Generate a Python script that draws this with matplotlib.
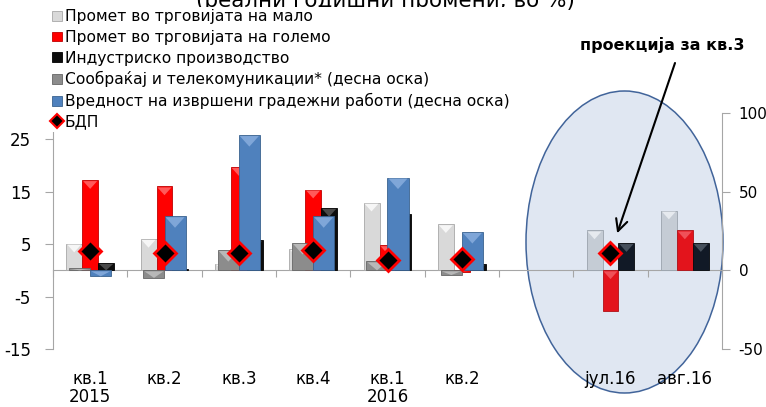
import numpy as np
import matplotlib
matplotlib.use('Agg')
import matplotlib.pyplot as plt
from matplotlib.patches import Ellipse, Polygon, Patch
from matplotlib.lines import Line2D

plt.rcParams['font.family'] = ['DejaVu Sans']
plt.rcParams['axes.unicode_minus'] = False

# Periods: six quarters, an empty gap, then two months
periods = ['кв.1\n2015', 'кв.2', 'кв.3', 'кв.4', 'кв.1\n2016', 'кв.2', '', 'јул.16', 'авг.16']
nan = np.nan

# left axis series
retail = [5.1, 6.0, 1.3, 4.1, 12.9, 8.8, nan, 7.6, 11.4]
wholesale = [17.2, 16.0, 19.7, 15.4, 4.8, -0.3, nan, -7.7, 7.6]
industry = [1.4, 0.3, 5.7, 11.9, 10.8, 1.2, nan, 5.2, 5.2]
gdp = [3.7, 3.3, 3.4, 3.8, 2.0, 2.2, nan, 3.3, nan]

# right axis series
transport = [1.5, -4.8, 12.9, 17.4, 5.7, -3.0, nan, nan, nan]
construction = [-3.8, 34.4, 86.0, 34.4, 59.0, 24.4, nan, nan, nan]

labels = ['Промет во трговијата на мало',
          'Промет во трговијата на големо',
          'Индустриско производство',
          'Сообраќај и телекомуникации* (десна оска)',
          'Вредност на извршени градежни работи (десна оска)',
          'БДП']

# body / highlight / edge colours; the monthly bars use a slightly different palette
q_body = ['#d9d9d9', '#ff0000', '#0d0d0d', '#8c8c8c', '#4f81bd']
q_top = ['#f6f6f6', '#ff5a5a', '#4a4a4a', '#b8b8b8', '#7fa6d8']
q_edge = ['#a8a8a8', '#c00000', '#000000', '#666666', '#3a628f']
m_body = ['#c5ccd5', '#e3141c', '#111926']
m_top = ['#e6eaef', '#ef5158', '#46505c']
m_edge = ['#9aa3ad', '#b01016', '#05080c']

W, H = 766, 407
fig = plt.figure(figsize=(W / 100, H / 100), dpi=100)
ax = fig.add_axes([53 / W, (H - 349) / H, 669 / W, 236 / H])
ax.patch.set_visible(False)
ax2 = ax.twinx()

x = np.arange(len(periods))
pw = 0.215   # primary bar width
sw = 0.283   # secondary bar width


def per_bar(qcol, mcol):
    return [mcol if i >= 7 else qcol for i in range(len(periods))]


def bevel(axis, bars, tops):
    # lighter triangular cap on the top edge of each bar
    tr = axis.transData
    for bar, tc in zip(bars, tops):
        h = bar.get_height()
        if not np.isfinite(h) or h == 0:
            continue
        x0, w, y0 = bar.get_x(), bar.get_width(), bar.get_y()
        top, bot = max(y0, y0 + h), min(y0, y0 + h)
        (px0, ptop), (px1, pbot) = tr.transform([(x0, top), (x0 + w, bot)])
        depth = min(0.55 * (px1 - px0), ptop - pbot)
        pts = tr.inverted().transform([(px0 + 1, ptop - 1), (px1 - 1, ptop - 1),
                                       ((px0 + px1) / 2, ptop - depth)])
        axis.add_patch(Polygon(pts, closed=True, facecolor=tc, edgecolor='none',
                               zorder=bar.get_zorder() + 0.1))


ax.set_xlim(-0.5, len(periods) - 0.5)
ax.set_ylim(-15, 30)
ax2.set_ylim(-50, 100)

prim = [retail, wholesale, industry]
for k, vals in enumerate(prim):
    bars = ax.bar(x + (k - 1) * pw, vals, pw,
                  color=per_bar(q_body[k], m_body[k]),
                  edgecolor=per_bar(q_edge[k], m_edge[k]), linewidth=0.6, zorder=3)
    bevel(ax, bars, per_bar(q_top[k], m_top[k]))

sec = [transport, construction]
for k, vals in enumerate(sec):
    j = k + 3
    bars = ax2.bar(x + (k - 0.5) * sw, vals, sw, color=q_body[j],
                   edgecolor=q_edge[j], linewidth=0.6, zorder=3)
    bevel(ax2, bars, [q_top[j]] * len(periods))

# GDP markers sit on top of everything but use the left scale
ax2.plot(x, gdp, transform=ax.transData, linestyle='none', marker='D',
         markersize=11, markerfacecolor='black', markeredgecolor='#ff0000',
         markeredgewidth=2, zorder=6)

# highlighted monthly area
ell = Ellipse((624.5 / W, (H - 242) / H), 197 / W, 302 / H, transform=fig.transFigure,
              facecolor='#e0e7f2', edgecolor='#41649a', linewidth=1.1, zorder=0.5,
              clip_on=False)
ax.add_artist(ell)

# axes styling
grey = '#a6a6a6'
for s in ['top', 'right']:
    ax.spines[s].set_visible(False)
for s in ['top', 'left', 'bottom']:
    ax2.spines[s].set_visible(False)
ax.spines['left'].set_color(grey)
ax.spines['bottom'].set_color(grey)
ax.spines['bottom'].set_position(('data', 0))
ax2.spines['right'].set_color(grey)

ax.set_yticks([-15, -5, 5, 15, 25])
ax.tick_params(axis='y', colors=grey, labelcolor='black', labelsize=12,
               length=6, width=0.8, pad=10)
ax2.set_yticks([-50, 0, 50, 100])
ax2.tick_params(axis='y', colors=grey, labelcolor='black', labelsize=11,
                length=6, width=0.8, pad=6)

ax.set_xticks(np.arange(len(periods) + 1) - 0.5)
ax.set_xticklabels([])
ax.tick_params(axis='x', colors=grey, length=5, width=0.8, direction='out')
for i, lab in enumerate(periods):
    ax.text(x[i], -0.09, lab, transform=ax.get_xaxis_transform(), ha='center',
            va='top', fontsize=12, linespacing=1.0)

# legend
handles = [Patch(facecolor=q_body[k], edgecolor=q_edge[k], linewidth=0.6) for k in range(5)]
handles.append(Line2D([], [], linestyle='none', marker='D', markersize=7,
                      markerfacecolor='black', markeredgecolor='#ff0000',
                      markeredgewidth=1.5))
leg = fig.legend(handles, labels, loc='upper left', bbox_to_anchor=(50 / W, 1 - 7 / H),
                 fontsize=11.2, frameon=True, facecolor='white', edgecolor='none',
                 framealpha=1, fancybox=False, borderpad=0.15, labelspacing=0.36,
                 handlelength=0.6, handleheight=0.6, handletextpad=0.2,
                 borderaxespad=0)
leg.set_zorder(10)

fig.text(385 / W, 1 - 7 / H, '(реални годишни промени, во %)', ha='center',
         va='baseline', fontsize=15.5)

fig.text(662 / W, 1 - 45 / H, 'проекција за кв.3', ha='center', va='center',
         fontsize=11.5, fontweight='bold')
ax.annotate('', xy=(x[7], gdp[7]), xycoords='data', xytext=(675, H - 63),
            textcoords='figure pixels',
            arrowprops=dict(arrowstyle='->,head_length=0.6,head_width=0.3',
                            color='black', lw=1.5, shrinkA=0, shrinkB=15,
                            mutation_scale=14),
            annotation_clip=False, zorder=7)

fig.savefig('out.png', dpi=100)
